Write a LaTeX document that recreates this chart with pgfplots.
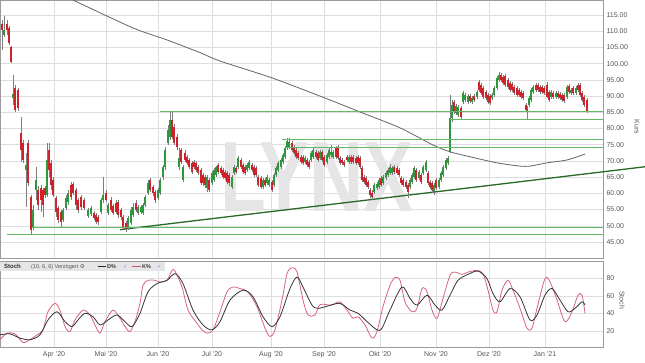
\documentclass[border=0pt]{standalone}
\usepackage{pgfplots}
\pgfplotsset{compat=1.18}
\usepackage{pgfplotstable}
\usepackage{fontspec}
\setmainfont{Liberation Sans}
\newfontfamily\dejavu{DejaVu Sans}
\definecolor{cup}{RGB}{46,150,60}
\definecolor{cdn}{RGB}{205,35,45}
\definecolor{wick}{RGB}{125,125,125}
\definecolor{srline}{RGB}{100,185,100}
\definecolor{tgreen}{RGB}{40,105,40}
\definecolor{gridc}{RGB}{222,222,222}
\definecolor{lab}{RGB}{85,85,85}
\definecolor{kcol}{RGB}{214,100,125}
\definecolor{macol}{RGB}{100,100,100}

\pgfplotstableread{
x o h l c
4 108.8 114.7 108.2 110.4
13 89.4 96.5 87.2 90.6
26 67.2 72.4 55.8 68.7
33 49.6 56.4 48.7 54.9
36 61.0 68.1 58.0 64.1
47 59.5 75.5 58.9 70.3
63 51.8 55.5 51.2 54.9
66 55.5 59.5 54.9 58.6
68 57.3 61.0 56.4 60.1
88 53.0 55.5 52.4 54.9
91 53.6 56.1 53.0 55.5
101 54.3 58.6 53.6 58.0
103 58.0 65.0 57.0 59.5
108 53.9 57.0 53.3 56.4
128 49.3 53.0 48.7 52.4
131 50.9 55.8 50.2 54.9
133 53.3 57.0 52.7 55.8
138 53.9 56.4 53.3 55.8
141 54.3 56.4 53.6 55.8
143 53.9 57.0 53.3 56.4
145 56.4 59.5 55.8 58.9
148 60.1 64.1 59.5 63.2
158 58.6 61.7 58.0 61.0
160 60.1 64.7 59.5 64.1
163 65.0 68.7 64.1 68.1
165 68.1 74.3 67.2 73.4
168 75.5 81.1 74.9 79.5
170 77.4 85.4 76.5 82.6
179 68.1 74.0 67.2 70.9
183 64.1 68.7 63.5 68.1
207 61.7 65.7 60.4 65.0
212 63.2 66.9 62.6 66.3
214 64.1 67.8 63.5 67.2
216 65.7 68.4 65.0 68.1
232 62.0 65.7 61.3 65.0
234 66.3 68.7 65.7 68.1
238 68.1 71.5 67.5 70.9
247 67.2 69.4 66.6 68.7
249 67.8 70.3 67.2 69.7
263 62.0 64.7 61.3 64.1
267 63.2 65.7 62.6 65.0
269 62.6 64.7 62.0 64.1
274 62.6 66.3 62.0 65.7
276 65.7 68.4 65.0 67.8
278 67.2 70.0 66.6 69.4
281 68.1 70.9 67.5 70.3
283 69.7 72.4 69.1 71.8
285 71.2 74.6 70.6 74.0
287 74.0 77.1 73.4 76.1
289 74.3 77.1 73.7 75.8
305 69.7 71.5 69.1 70.9
311 70.3 73.1 69.7 72.4
313 71.2 74.0 70.6 73.4
320 70.9 73.4 70.3 72.8
327 69.7 72.4 69.1 71.8
329 71.2 74.0 70.6 73.4
331 71.8 74.9 70.9 72.8
333 71.2 73.4 70.6 72.8
349 69.7 71.8 69.1 71.2
374 60.4 63.2 59.8 62.6
377 61.7 63.5 61.0 62.9
379 62.0 64.7 61.3 64.1
383 63.2 65.7 62.6 65.0
386 64.7 66.9 64.1 66.3
388 65.7 67.8 65.0 67.2
390 66.3 69.1 65.7 68.1
392 66.3 68.4 65.7 67.8
410 62.0 64.7 61.3 64.1
412 63.5 66.3 62.9 65.7
414 65.0 68.4 64.4 67.8
419 64.7 67.2 64.1 66.6
423 66.3 68.7 65.7 68.1
426 67.2 70.3 66.6 69.7
434 60.4 63.2 59.5 62.6
439 62.0 64.7 61.3 64.1
441 64.1 66.9 63.5 66.3
443 65.7 68.7 65.0 68.1
446 67.8 70.9 67.2 70.3
448 69.4 71.5 68.7 70.9
450 72.8 90.3 72.4 83.2
452 83.2 88.8 82.0 87.2
456 84.8 87.6 84.2 86.9
458 84.2 87.2 83.5 86.6
463 88.2 91.6 87.6 91.0
465 88.8 91.0 88.2 90.3
468 88.2 90.6 87.6 90.0
472 88.2 90.0 87.6 89.4
477 89.7 91.9 89.1 91.3
492 89.4 91.0 88.8 90.3
494 90.3 93.1 89.7 92.5
497 92.5 96.2 91.9 95.6
499 95.0 97.4 94.3 96.5
527 85.1 86.9 82.9 86.3
529 87.2 90.0 86.6 89.4
531 88.8 92.5 88.2 91.9
533 91.3 93.4 90.6 92.8
551 89.7 91.9 89.1 91.3
556 89.7 91.6 89.1 91.0
567 89.7 93.4 89.1 92.8
571 91.0 92.5 90.3 91.9
576 91.0 93.1 90.3 92.5
}\upc

\pgfplotstableread{
x o h l c
2 112.3 113.5 104.2 110.4
7 112.2 113.5 108.8 110.4
9 111.0 111.6 105.7 106.4
11 105.1 105.4 100.2 100.5
15 92.5 93.4 85.1 85.7
18 91.9 92.5 85.4 86.3
21 78.6 83.5 69.7 73.4
23 75.5 76.5 69.4 70.3
28 75.5 76.5 62.3 63.2
31 58.9 59.5 47.2 48.7
38 61.0 62.3 54.9 56.4
41 61.7 62.6 54.3 58.0
43 61.0 61.7 52.7 56.4
45 61.7 62.3 58.6 59.5
49 73.4 75.5 65.0 67.2
51 69.4 70.3 61.0 62.6
53 64.1 65.0 58.9 59.5
56 58.6 59.2 52.7 54.3
58 55.5 56.1 50.9 51.8
61 54.3 54.9 49.6 51.2
71 62.6 63.5 58.0 58.9
73 62.9 63.5 59.5 60.1
76 61.0 61.7 54.9 56.4
78 58.0 58.6 53.9 54.9
81 58.9 59.5 54.9 55.8
84 58.0 58.6 54.9 55.5
94 53.9 54.6 51.8 52.4
96 53.3 53.9 50.6 51.2
98 52.7 53.3 50.2 51.2
106 60.1 61.0 57.3 58.0
111 58.0 58.9 54.3 54.9
113 56.1 56.7 53.3 53.9
116 57.0 58.0 53.6 54.3
118 57.3 58.0 52.4 53.3
121 54.9 55.5 51.8 52.7
123 52.7 53.3 49.0 49.6
126 50.9 51.5 48.1 49.0
136 57.0 58.0 54.3 54.9
150 64.1 64.7 60.4 61.0
153 62.0 62.6 59.2 60.1
155 60.4 61.0 57.0 58.0
172 82.6 85.4 76.8 77.4
174 80.5 81.4 74.9 75.5
177 77.4 78.3 73.4 74.3
181 73.4 74.0 69.1 69.7
185 72.4 73.4 69.7 70.3
187 71.2 71.8 68.7 69.4
189 70.3 70.9 67.5 68.1
192 69.4 70.0 66.0 66.6
194 69.7 70.3 67.5 68.1
196 69.4 70.0 66.6 67.2
198 68.1 68.7 65.7 66.3
201 67.2 67.8 62.6 63.2
203 65.7 66.3 62.3 63.2
205 65.0 65.7 61.7 62.6
209 64.1 64.7 60.4 61.0
218 68.7 69.4 66.0 66.6
221 67.8 68.4 65.7 66.3
223 67.2 67.8 64.4 65.0
225 66.6 67.2 64.1 64.7
227 66.3 66.9 62.9 63.5
229 65.7 66.3 62.3 63.2
236 67.8 68.4 66.0 66.6
241 70.3 70.9 67.5 68.1
243 68.7 69.4 66.0 66.6
245 68.1 68.7 65.7 66.3
252 68.7 69.4 66.6 67.2
254 68.1 68.7 65.0 65.7
256 67.8 68.4 65.0 65.7
258 65.0 65.7 62.0 62.6
261 64.7 65.4 61.3 62.0
265 64.1 64.7 62.0 62.6
272 63.5 64.1 60.4 61.0
292 75.5 76.1 72.8 73.4
294 74.3 74.9 71.8 72.4
296 73.4 74.0 70.6 71.2
298 72.4 73.1 70.3 70.9
301 71.2 71.8 69.1 69.7
303 71.2 71.8 68.7 69.4
307 70.3 70.9 68.1 68.7
309 69.7 70.3 67.5 68.1
316 72.8 73.4 70.6 71.2
318 72.4 73.1 69.7 70.3
322 72.8 73.4 69.7 70.3
324 71.2 71.8 68.1 68.7
336 74.0 74.6 70.6 71.2
338 74.3 74.9 70.3 70.9
340 70.9 71.5 68.7 69.4
342 70.3 70.9 68.7 69.4
344 69.7 70.3 68.1 68.7
347 71.2 71.8 69.7 70.3
351 71.2 71.8 69.1 69.7
353 71.2 71.8 69.1 69.7
356 70.9 71.5 68.7 69.4
358 71.2 71.8 68.7 69.4
360 70.9 71.5 67.5 68.1
362 67.8 68.4 63.5 64.1
364 65.0 65.7 62.9 63.5
366 64.7 65.4 62.0 62.6
368 63.5 64.1 61.3 62.0
370 61.0 61.7 58.6 59.5
372 60.1 61.0 58.0 58.9
381 64.7 65.4 62.0 62.6
394 68.1 68.7 66.0 66.6
397 67.8 68.4 65.7 66.3
399 67.2 67.8 65.0 65.7
401 64.7 65.4 62.6 63.2
403 64.1 64.7 62.0 62.6
406 63.5 64.1 61.3 62.0
408 62.6 63.2 58.6 60.4
416 67.2 67.8 63.5 64.1
421 65.7 66.3 62.9 63.5
428 66.3 66.9 62.6 63.2
430 63.5 64.1 61.3 62.0
432 63.2 63.8 60.1 61.0
436 64.1 64.7 61.0 61.7
454 88.2 88.8 84.5 85.1
461 86.3 86.9 82.9 83.5
470 90.0 90.6 87.9 88.5
474 90.0 90.6 88.2 88.8
479 94.3 95.0 91.3 91.9
481 93.4 94.0 90.3 91.0
483 92.5 93.1 89.1 89.7
486 91.3 91.9 88.8 89.4
488 90.3 91.0 87.6 88.2
490 90.0 90.6 87.2 87.9
501 96.5 97.1 94.3 95.0
503 95.9 96.5 93.4 94.0
505 96.2 96.8 92.8 93.4
508 95.0 95.6 92.2 92.8
510 94.0 94.6 91.3 91.9
512 93.7 94.3 91.3 91.9
514 92.8 93.4 90.3 91.0
517 92.5 93.1 89.7 90.3
519 91.9 92.5 89.7 90.3
521 91.3 91.9 89.1 89.7
523 91.0 91.6 88.8 89.4
526 87.2 87.9 85.1 85.7
536 93.4 94.0 91.3 91.9
538 93.4 94.0 91.3 91.9
540 92.8 93.4 90.6 91.3
542 92.8 93.4 90.6 91.3
544 92.5 93.1 90.3 91.0
547 93.4 94.3 89.4 89.7
549 91.3 91.9 88.2 88.8
553 91.0 91.6 89.1 89.7
558 91.0 91.6 89.1 89.7
560 90.6 91.3 88.8 89.4
562 90.3 91.0 88.2 88.8
564 90.3 91.0 87.9 88.5
569 93.1 93.7 90.6 91.3
573 92.5 93.1 90.3 91.0
578 93.4 94.0 91.3 91.9
580 93.4 94.0 89.7 90.3
582 91.0 91.6 88.2 88.8
584 89.7 90.3 86.6 87.2
587 88.8 89.4 84.8 85.1
}\dnc

\pgfplotstableread{
x v
0 9.9
7 17.4
15 16.6
23 6.8
30 9.9
37 15.5
43 21.2
48 41.9
55 51.4
60 43.8
65 24.9
70 19.3
75 32.5
83 43.8
90 38.2
95 26.8
100 17.4
105 30.6
113 43.8
120 34.4
125 24.9
130 19.3
135 30.6
140 51.4
143 72.1
148 77.8
155 77.8
160 75.9
167 77.8
172 89.1
175 88.3
182 70.2
188 43.8
197 28.8
202 21.2
207 17.4
213 21.2
220 41.9
227 64.6
233 70.2
240 68.4
248 64.6
257 47.6
265 23.1
270 13.6
275 21.2
282 55.2
287 85.4
292 92.2
297 87.2
303 55.2
308 38.2
315 38.2
320 50.0
330 49.5
335 51.4
340 53.2
347 43.8
353 34.4
358 36.2
365 26.8
372 11.8
377 19.3
383 47.6
390 72.1
395 80.9
400 77.8
405 53.2
412 41.9
417 45.8
422 68.4
427 64.6
432 43.8
437 34.4
443 57.1
450 83.5
455 87.2
462 84.6
468 87.2
477 89.1
483 85.4
488 66.5
493 43.8
497 41.9
502 66.5
508 77.8
513 66.5
520 45.8
527 23.1
532 23.1
537 45.8
545 79.7
550 75.9
557 55.2
565 30.6
572 41.9
578 60.8
582 60.8
585 40.1
}\kline

\pgfplotstableread{
x v
0 15.5
10 16.6
20 11.8
30 9.9
40 15.5
48 32.5
57 41.9
65 30.6
72 24.9
78 32.5
85 40.1
93 36.2
100 26.8
108 32.5
117 38.2
125 30.6
132 24.9
140 40.1
148 64.6
157 74.0
167 77.8
175 85.4
183 74.0
193 43.8
203 26.8
212 21.2
220 30.6
230 55.2
243 66.5
253 58.9
263 36.2
272 24.9
280 36.2
290 68.4
297 81.5
303 70.2
312 49.5
318 45.8
328 48.5
340 51.4
350 43.8
358 40.1
367 30.6
377 21.2
382 23.1
390 43.8
402 70.2
410 57.1
417 49.5
427 60.8
435 49.5
442 43.8
450 60.8
458 77.8
468 84.6
478 88.3
487 79.7
493 62.7
500 53.2
510 68.4
520 58.9
530 32.5
537 38.2
545 60.8
552 68.4
560 55.2
568 41.9
575 45.8
582 53.2
585 49.5
}\dline

\begin{document}
\begin{tikzpicture}
\useasboundingbox (0pt,0pt) rectangle (645pt,363pt);
\begin{axis}[
  at={(0pt,105pt)}, anchor=south west, scale only axis,
  width=603pt, height=258pt,
  xmin=0, xmax=603, ymin=40.07, ymax=119.62,
  clip=false,
  axis line style={draw=gridc!70!black, line width=0.5pt},
  xtick={54,106,158,212,271,324,380,436,489,545},
  xticklabels={},
  ytick={45,50,...,115},
  yticklabel pos=right,
  major tick length=0pt,
  grid=major,
  grid style={draw=gridc, line width=0.5pt},
  yticklabel style={font=\fontsize{7}{8}\selectfont, text=lab,
    /pgf/number format/.cd, fixed, fixed zerofill, precision=2, assume math mode=true},
]
\node[font=\bfseries\fontsize{100}{100}\selectfont, text=black!10, xscale=0.75] at (axis cs:317,65.0) {LYNX};
% MA 200
\addplot[color=macol, line width=0.8pt, smooth, tension=0.4] coordinates {
(73,119.6) (133,111.0) (167,107.3) (200,103.4) (220,100.8) (272,95.6) (325,89.4) (360,85.1)
(400,80.2) (433,74.9) (450,72.8) (467,71.5) (497,69.4) (520,68.4) (530,68.4) (547,69.4) (567,70.3) (585,72.1)};
% trend line
\addplot[color=tgreen, line width=1.3pt] coordinates {(120,48.8) (645,68.2)};
% wicks
\addplot[draw=none, no markers, error bars/.cd, y dir=minus, y explicit, error mark=none,
  error bar style={draw=wick, line width=0.6pt}]
  table[x=x, y=h, y error minus expr=\thisrow{h}-\thisrow{l}] {\upc};
\addplot[draw=none, no markers, error bars/.cd, y dir=minus, y explicit, error mark=none,
  error bar style={draw=wick, line width=0.6pt}]
  table[x=x, y=h, y error minus expr=\thisrow{h}-\thisrow{l}] {\dnc};
% bodies
\addplot[draw=none, no markers, error bars/.cd, y dir=minus, y explicit, error mark=none,
  error bar style={draw=cup, line width=1.6pt}]
  table[x=x, y=c, y error minus expr=\thisrow{c}-\thisrow{o}] {\upc};
\addplot[draw=none, no markers, error bars/.cd, y dir=minus, y explicit, error mark=none,
  error bar style={draw=cdn, line width=1.6pt}]
  table[x=x, y=o, y error minus expr=\thisrow{o}-\thisrow{c}] {\dnc};
% support / resistance lines
\addplot[color=srline, line width=0.9pt] coordinates {(160,85.4) (603,85.4)};
\addplot[color=srline, line width=0.9pt] coordinates {(450,82.8) (603,82.8)};
\addplot[color=srline, line width=0.9pt] coordinates {(282,76.5) (603,76.5)};
\addplot[color=srline, line width=0.9pt] coordinates {(285,74.3) (603,74.3)};
\addplot[color=srline, line width=0.9pt] coordinates {(32,49.6) (603,49.6)};
\addplot[color=srline, line width=0.9pt] coordinates {(7,47.2) (603,47.2)};
\end{axis}

\begin{axis}[
  at={(0pt,15.3pt)}, anchor=south west, scale only axis,
  width=603pt, height=86.2pt,
  xmin=0, xmax=603, ymin=0.8, ymax=99.3,
  axis line style={draw=gridc!70!black, line width=0.5pt},
  xtick={54,106,158,212,271,324,380,436,489,545},
  xticklabels={Apr '20, Mai '20, Jun '20, Jul '20, Aug '20, Sep '20, Okt '20, Nov '20, Dez '20, Jan '21},
  xticklabel style={font=\fontsize{7}{8}\selectfont, text=lab},
  ytick={20,40,60,80},
  yticklabel pos=right,
  major tick length=0pt,
  grid=major,
  grid style={draw=gridc, line width=0.5pt},
  yticklabel style={font=\fontsize{7}{8}\selectfont, text=lab, /pgf/number format/assume math mode=true},
]
\addplot[color=kcol, line width=0.8pt, smooth, tension=0.5] table[x=x, y=v] {\kline};
\addplot[color=black!80, line width=0.8pt, smooth, tension=0.5] table[x=x, y=v] {\dline};
\end{axis}

% side labels
\node[rotate=-90, font=\fontsize{7}{8}\selectfont, text=lab] at (637pt,236pt) {Kurs};
\node[rotate=-90, font=\fontsize{7}{8}\selectfont, text=lab] at (622pt,63pt) {Stoch};
% stoch header
\fill[black!10] (0pt,91.5pt) rectangle (165pt,101pt);
\node[anchor=west, inner sep=0, font=\bfseries\fontsize{6}{7}\selectfont, text=black!80] at (4pt,96.2pt) {Stoch};
\node[anchor=west, inner sep=0, font=\fontsize{5.5}{7}\selectfont, text=lab] at (31pt,96.2pt) {(10, 6, 6) Verzögert {\dejavu ⚙}};
\draw[black!85, line width=0.9pt] (98pt,96.2pt) -- (106pt,96.2pt);
\node[anchor=west, inner sep=0, font=\bfseries\fontsize{5.5}{7}\selectfont, text=black!80] at (107pt,96.2pt) {D\%};
\node[anchor=west, inner sep=0, font=\dejavu\fontsize{5}{7}\selectfont, text=blue!60] at (123pt,96pt) {✓};
\draw[kcol!90!black, line width=0.9pt] (132pt,96.2pt) -- (141pt,96.2pt);
\node[anchor=west, inner sep=0, font=\bfseries\fontsize{5.5}{7}\selectfont, text=black!80] at (142pt,96.2pt) {K\%};
\node[anchor=west, inner sep=0, font=\dejavu\fontsize{5}{7}\selectfont, text=blue!60] at (157pt,96pt) {✓};
\end{tikzpicture}
\end{document}
